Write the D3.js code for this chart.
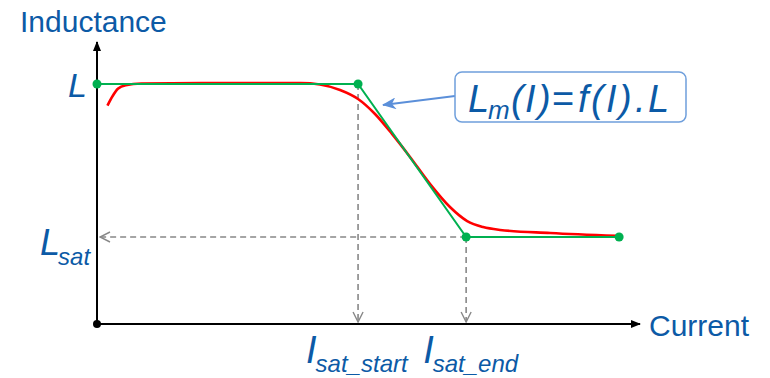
<!DOCTYPE html>
<html>
<head>
<meta charset="utf-8">
<script src="https://cdn.jsdelivr.net/npm/d3@7"></script>
<style>
  html, body { margin: 0; padding: 0; background: #fff; }
  svg { display: block; font-family: "Liberation Sans", Arial, sans-serif; }
</style>
</head>
<body>
<svg id="chart" width="770" height="378"></svg>
<script>
// ── Data ──────────────────────────────────────────────────────────────────
// measured inductance curve (red)
const measuredCurrent = [0.04, 0.06, 0.08, 0.11, 0.17, 0.40, 0.78, 0.854, 0.931, 1.0, 1.065,
                         1.13, 1.199, 1.276, 1.352, 1.418, 1.479, 1.544, 1.736, 1.992];
const measuredL = [0.91, 0.95, 0.98, 0.995, 1.002, 1.004, 1.004, 0.998, 0.975, 0.9375, 0.875,
                   0.792, 0.696, 0.583, 0.4875, 0.429, 0.404, 0.392, 0.379, 0.367];

// piecewise model (green)
const modelCurrent = [0, 1, 1.414, 2.0];
const modelL = [1, 1, 0.3625, 0.3625];

const L_NOM = 1;
const L_SAT = 0.3625;
const I_SAT_START = 1;
const I_SAT_END = 1.414;
const X_MAX = 2.08;
const Y_MAX = 1.175;

// formula pieces: text, x position, italic?, subscript?
const formulaParts = [
  ['L', 468, true, false], ['m', 488, true, true], ['(', 511, true, false],
  ['I', 525, true, false], [')', 538, true, false], ['=', 552, false, false],
  ['f', 578, true, false], ['(', 591, true, false], ['I', 606, true, false],
  [')', 619, true, false], ['.', 635, true, false], ['L', 648, true, false]
];

const BLUE = '#0c5aa6';

// ── Scales ────────────────────────────────────────────────────────────────
const x = d3.scaleLinear().domain([0, X_MAX]).range([97, 640]);
const y = d3.scaleLinear().domain([0, Y_MAX]).range([324, 42]);

const svg = d3.select('#chart');
const defs = svg.append('defs');

// filled arrowhead for axes
defs.append('marker')
  .attr('id', 'axis-arrow')
  .attr('viewBox', '0 0 10 10')
  .attr('refX', 9).attr('refY', 5)
  .attr('markerWidth', 10).attr('markerHeight', 10)
  .attr('markerUnits', 'userSpaceOnUse')
  .attr('orient', 'auto')
  .append('path').attr('d', 'M0,1 L10,5 L0,9 Z').attr('fill', '#000');

// open chevron for dashed guides
defs.append('marker')
  .attr('id', 'guide-arrow')
  .attr('viewBox', '0 0 12 12')
  .attr('refX', 11).attr('refY', 6)
  .attr('markerWidth', 12).attr('markerHeight', 12)
  .attr('markerUnits', 'userSpaceOnUse')
  .attr('orient', 'auto')
  .append('path').attr('d', 'M1,1 L11,6 L1,11')
  .attr('fill', 'none').attr('stroke', '#888').attr('stroke-width', 1.4);

// callout arrow
defs.append('marker')
  .attr('id', 'callout-arrow')
  .attr('viewBox', '0 0 14 12')
  .attr('refX', 13).attr('refY', 6)
  .attr('markerWidth', 14).attr('markerHeight', 12)
  .attr('markerUnits', 'userSpaceOnUse')
  .attr('orient', 'auto')
  .append('path').attr('d', 'M0,0 L14,6 L0,12 L4,6 Z').attr('fill', '#5b8fd9');

// ── Dashed guides ─────────────────────────────────────────────────────────
const guides = svg.append('g')
  .attr('fill', 'none')
  .attr('stroke', '#888')
  .attr('stroke-width', 1.6)
  .attr('stroke-dasharray', '6,4');

guides.append('line')
  .attr('x1', x(I_SAT_END)).attr('y1', y(L_SAT))
  .attr('x2', x(0) + 3).attr('y2', y(L_SAT))
  .attr('marker-end', 'url(#guide-arrow)');

guides.append('line')
  .attr('x1', x(I_SAT_START)).attr('y1', y(L_NOM))
  .attr('x2', x(I_SAT_START)).attr('y2', y(0) - 2)
  .attr('marker-end', 'url(#guide-arrow)');

guides.append('line')
  .attr('x1', x(I_SAT_END)).attr('y1', y(L_SAT))
  .attr('x2', x(I_SAT_END)).attr('y2', y(0) - 2)
  .attr('marker-end', 'url(#guide-arrow)');

// ── Axes ──────────────────────────────────────────────────────────────────
svg.append('line')
  .attr('x1', x(0)).attr('y1', y(0))
  .attr('x2', x(X_MAX)).attr('y2', y(0))
  .attr('stroke', '#000').attr('stroke-width', 2)
  .attr('marker-end', 'url(#axis-arrow)');

svg.append('line')
  .attr('x1', x(0)).attr('y1', y(0))
  .attr('x2', x(0)).attr('y2', y(Y_MAX))
  .attr('stroke', '#000').attr('stroke-width', 2)
  .attr('marker-end', 'url(#axis-arrow)');

svg.append('circle')
  .attr('cx', x(0)).attr('cy', y(0)).attr('r', 4).attr('fill', '#000');

// ── Curves ────────────────────────────────────────────────────────────────
const measured = measuredCurrent.map((c, i) => [c, measuredL[i]]);
const model = modelCurrent.map((c, i) => [c, modelL[i]]);

svg.append('path')
  .datum(measured)
  .attr('fill', 'none')
  .attr('stroke', '#ff0000')
  .attr('stroke-width', 2.6)
  .attr('d', d3.line().x(d => x(d[0])).y(d => y(d[1])).curve(d3.curveMonotoneX));

svg.append('path')
  .datum(model)
  .attr('fill', 'none')
  .attr('stroke', '#00b050')
  .attr('stroke-width', 2)
  .attr('d', d3.line().x(d => x(d[0])).y(d => y(d[1])));

svg.selectAll('.model-dot')
  .data(model)
  .enter().append('circle')
  .attr('class', 'model-dot')
  .attr('cx', d => x(d[0])).attr('cy', d => y(d[1]))
  .attr('r', 4.5)
  .attr('fill', '#00b050');

// ── Labels ────────────────────────────────────────────────────────────────
svg.append('text')
  .attr('x', 20).attr('y', 32)
  .attr('fill', BLUE).attr('font-size', 30)
  .text('Inductance');

svg.append('text')
  .attr('x', 649).attr('y', 336)
  .attr('fill', BLUE).attr('font-size', 30)
  .text('Current');

svg.append('text')
  .attr('x', x(0) - 10).attr('y', y(L_NOM) + 13)
  .attr('text-anchor', 'end')
  .attr('fill', BLUE).attr('font-size', 34).attr('font-style', 'italic')
  .text('L');

const lsat = svg.append('text')
  .attr('x', 40).attr('y', y(L_SAT) + 18)
  .attr('fill', BLUE).attr('font-style', 'italic');
lsat.append('tspan').attr('font-size', 36).text('L');
lsat.append('tspan').attr('font-size', 24).attr('dy', 10).attr('dx', -2).text('sat');

const iLabels = [
  { sub: 'sat_start', value: I_SAT_START, dx: -52 },
  { sub: 'sat_end', value: I_SAT_END, dx: -43 }
];
iLabels.forEach(d => {
  const t = svg.append('text')
    .attr('x', x(d.value) + d.dx).attr('y', 363)
    .attr('fill', BLUE).attr('font-style', 'italic');
  t.append('tspan').attr('font-size', 38).text('I');
  t.append('tspan').attr('font-size', 24).attr('dy', 9).attr('dx', -1).text(d.sub);
});

// ── Formula callout ───────────────────────────────────────────────────────
svg.append('line')
  .attr('x1', 455).attr('y1', 96)
  .attr('x2', 383).attr('y2', 105)
  .attr('stroke', '#5b8fd9').attr('stroke-width', 1.8)
  .attr('marker-end', 'url(#callout-arrow)');

svg.append('rect')
  .attr('x', 455).attr('y', 72)
  .attr('width', 231).attr('height', 50)
  .attr('rx', 7)
  .attr('fill', '#fff')
  .attr('stroke', '#6f9fdc').attr('stroke-width', 1.5);

svg.append('g')
  .selectAll('text')
  .data(formulaParts)
  .enter().append('text')
  .attr('x', d => d[1])
  .attr('y', d => d[3] ? 119 : 112)
  .attr('fill', BLUE)
  .attr('font-size', d => d[3] ? 26 : 38)
  .attr('font-style', d => d[2] ? 'italic' : 'normal')
  .text(d => d[0]);
</script>
</body>
</html>
